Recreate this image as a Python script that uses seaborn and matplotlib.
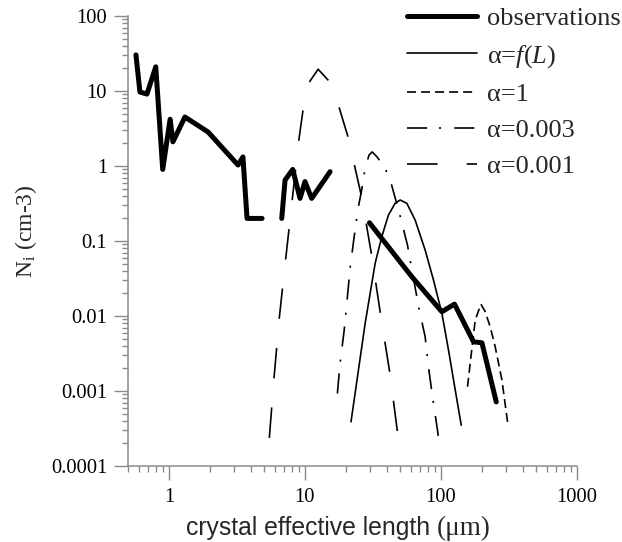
import numpy as np
import pandas as pd
import matplotlib
matplotlib.use("Agg")
import matplotlib.pyplot as plt
from matplotlib.ticker import FixedLocator, FixedFormatter, LogLocator, NullFormatter
import seaborn as sns

# ---------------- data ----------------
obs_x = [0.572, 0.612, 0.689, 0.80, 0.90, 1.02, 1.07, 1.31, 1.94, 3.22, 3.5, 3.75, 4.84,
         6.75, 7.14, 8.13, 9.2, 10.0, 11.2, 15.3,
         29.8, 61.1, 101.5, 125.7, 173.5, 200.0, 254.9]
obs_y = [30.3, 9.7, 9.1, 21.0, 0.9, 4.2, 2.1, 4.5, 2.84, 1.03, 1.32, 0.20, 0.20,
         0.20, 0.65, 0.90, 0.37, 0.62, 0.37, 0.84,
         0.175, 0.0333, 0.0114, 0.0144, 0.00453, 0.00439, 0.000716]
obs_seg = [0] * 13 + [1] * 7 + [2] * 7

fL_x = [21.8, 27.7, 32.8, 36.7, 41.1, 46.0, 50.1, 56.1, 64.6, 76.5, 88.1, 101.6, 113.6, 127.3, 140.9]
fL_y = [0.000388, 0.00797, 0.0503, 0.114, 0.222, 0.318, 0.352, 0.318, 0.190, 0.0757, 0.0301,
        0.0108, 0.00351, 0.00103, 0.00035]

a1_x = [156.7, 168.8, 178.5, 196.6, 211.5, 230.0, 250.4, 280.6, 308.4]
a1_y = [0.00114, 0.0037, 0.0088, 0.0144, 0.0114, 0.00718, 0.00388, 0.0014, 0.000388]

a003_x = [17.31, 18.13, 19.39, 20.41, 21.47, 22.98, 24.72, 26.1, 27.7, 29.6, 31.2, 33.9, 38.9,
          43.0, 49.5, 56.7, 68.3, 76.5, 80.9, 87.2, 94.3, 97.5]
a003_y = [0.000927, 0.00237, 0.00629, 0.0163, 0.0436, 0.113, 0.286, 0.478, 0.94, 1.40, 1.54,
          1.32, 0.93, 0.588, 0.234, 0.0883, 0.0136, 0.00528, 0.0021, 0.00077, 0.0003, 0.000184]

a001_x = [5.47, 5.92, 6.47, 7.21, 9.03, 9.72, 10.9, 12.5, 15.0, 17.9, 20.8, 26.2, 30.9, 36.0, 42.2, 48.0]
a001_y = [0.000237, 0.00148, 0.0093, 0.0569, 2.27, 5.89, 13.6, 19.5, 13.6, 5.89, 2.39, 0.374,
          0.065, 0.0103, 0.00168, 0.000272]

x_ticks = [1, 10, 100, 1000]
x_tick_labels = ["1", "10", "100", "1000"]
y_ticks = [0.0001, 0.001, 0.01, 0.1, 1, 10, 100]
y_tick_labels = ["0.0001", "0.001", "0.01", "0.1", "1", "10", "100"]

labels = ["observations", r"α=$f(L)$", "α=1", "α=0.003", "α=0.001"]
x_label_main = "crystal effective length"
x_label_unit = "(μm)"
y_label = r"N$_{\mathrm{i}}$ (cm-3)"

# ---------------- style ----------------
sns.set_theme(style="white")
plt.rcParams["font.family"] = ["Liberation Serif", "DejaVu Serif"]
plt.rcParams["mathtext.fontset"] = "custom"
plt.rcParams["mathtext.rm"] = "Liberation Serif"
plt.rcParams["mathtext.it"] = "Liberation Serif:italic"
plt.rcParams["lines.scale_dashes"] = False

fig = plt.figure(figsize=(6.22, 5.42), dpi=100)
ax = fig.add_axes([128 / 622, 1 - 466 / 542, 449 / 622, 450 / 542])

thin = 1.2
obs_df = pd.DataFrame({"x": obs_x, "y": obs_y, "seg": obs_seg})
sns.lineplot(data=obs_df, x="x", y="y", units="seg", estimator=None, sort=False,
             color="black", lw=3.6, ax=ax, legend=False)
sns.lineplot(x=fL_x, y=fL_y, sort=False, estimator=None, color="black", lw=thin,
             linestyle="-", ax=ax, legend=False)
sns.lineplot(x=a1_x, y=a1_y, sort=False, estimator=None, color="black", lw=thin,
             linestyle=(0, (6.5, 3.6)), ax=ax, legend=False)
sns.lineplot(x=a003_x, y=a003_y, sort=False, estimator=None, color="black", lw=thin,
             linestyle=(0, (14.5, 8.5, 1.5, 9.5)), ax=ax, legend=False)
sns.lineplot(x=a001_x, y=a001_y, sort=False, estimator=None, color="black", lw=thin,
             linestyle=(0, (22, 21)), ax=ax, legend=False)

ax.set_xscale("log")
ax.set_yscale("log")
ax.set_xlim(0.5, 1000)
ax.set_ylim(0.0001, 100)

ax.xaxis.set_major_locator(FixedLocator(x_ticks))
ax.xaxis.set_major_formatter(FixedFormatter(x_tick_labels))
ax.yaxis.set_major_locator(FixedLocator(y_ticks))
ax.yaxis.set_major_formatter(FixedFormatter(y_tick_labels))
ax.xaxis.set_minor_locator(LogLocator(base=10, subs=np.arange(2, 10)))
ax.yaxis.set_minor_locator(LogLocator(base=10, subs=np.arange(2, 10)))
ax.xaxis.set_minor_formatter(NullFormatter())
ax.yaxis.set_minor_formatter(NullFormatter())

gray = "#8a8a8a"
for s in ["top", "right"]:
    ax.spines[s].set_visible(False)
for s in ["left", "bottom"]:
    ax.spines[s].set_color(gray)
    ax.spines[s].set_linewidth(1.1)
ax.tick_params(axis="both", which="major", direction="out", length=10, width=1.0,
               color=gray, labelsize=14.8, labelcolor="black", pad=5)
ax.tick_params(axis="both", which="minor", direction="out", length=4.5, width=1.0, color=gray)
ax.tick_params(axis="x", which="major", pad=6)
ax.tick_params(axis="both", which="both", bottom=True, left=True)
ax.grid(False)

# x label: sans-serif main part plus serif unit, as in the reference
ax.set_xlabel(x_label_main + " ", fontsize=17.8, family=["Liberation Sans", "DejaVu Sans"])
ax.xaxis.label.set_va("center")
ax.xaxis.set_label_coords((311 - 128) / 449, (466 - 528) / 450)
ax.annotate(x_label_unit, xy=(1.0, 0.5), xycoords=ax.xaxis.label, ha="left", va="center",
            fontsize=19.5, family=["Liberation Serif", "DejaVu Serif"], annotation_clip=False)

ax.set_ylabel(y_label, fontsize=17)
ax.yaxis.label.set_va("center")
ax.yaxis.set_label_coords((26 - 128) / 449, (466 - 231) / 450)

# legend
lines = ax.get_lines()
handles = [lines[0], lines[3], lines[4], lines[5], lines[6]]
leg = fig.legend(handles, labels, loc="upper right", bbox_to_anchor=(621 / 622, 1 - 7 / 542),
                 frameon=False, fontsize=19, handlelength=2.65, handletextpad=0.4,
                 labelspacing=0.48, borderpad=0, borderaxespad=0)

fig.savefig("out.png", dpi=100)
